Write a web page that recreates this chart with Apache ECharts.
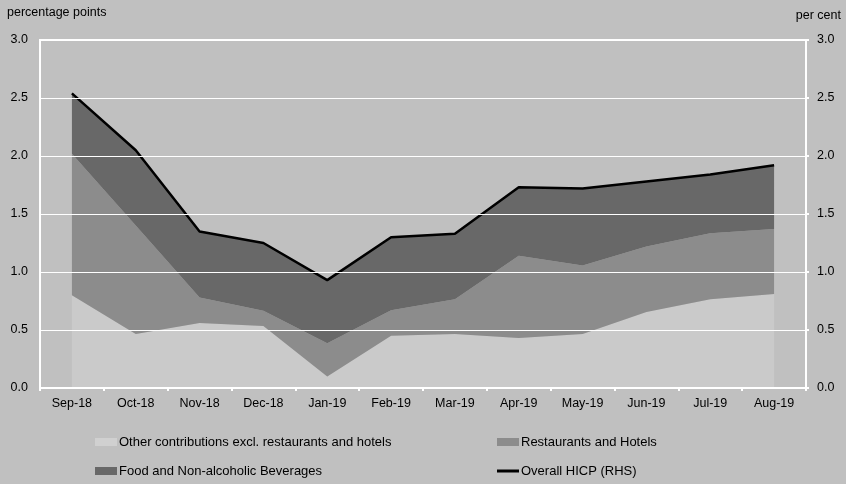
<!DOCTYPE html>
<html>
<head>
<meta charset="utf-8">
<script src="https://cdn.jsdelivr.net/npm/echarts@6/dist/echarts.min.js"></script>
<style>
  html, body { margin: 0; padding: 0; background: #c0c0c0; }
  #chart { width: 846px; height: 484px; }
</style>
</head>
<body>
<div id="chart"></div>
<script>
const months = ['Sep-18', 'Oct-18', 'Nov-18', 'Dec-18', 'Jan-19', 'Feb-19', 'Mar-19', 'Apr-19', 'May-19', 'Jun-19', 'Jul-19', 'Aug-19'];

// contributions, percentage points
const otherContrib = [0.80, 0.465, 0.56, 0.535, 0.10, 0.45, 0.465, 0.43, 0.465, 0.655, 0.765, 0.81];
const restaurantsHotels = [1.22, 0.935, 0.22, 0.13, 0.285, 0.22, 0.30, 0.71, 0.59, 0.565, 0.57, 0.56];
const foodBeverages = [0.52, 0.65, 0.57, 0.585, 0.545, 0.63, 0.565, 0.59, 0.666, 0.56, 0.504, 0.55];

// per cent (RHS)
const overallHicp = [2.54, 2.05, 1.35, 1.25, 0.93, 1.30, 1.33, 1.73, 1.72, 1.78, 1.84, 1.92];

const yTicks = [0, 0.5, 1, 1.5, 2, 2.5, 3];

const font = 'Liberation Sans';
const white = '#ffffff';

const chart = echarts.init(document.getElementById('chart'));

const areaSeries = (name, data, color) => ({
    name,
    type: 'line',
    stack: 'contrib',
    data,
    symbol: 'none',
    lineStyle: { width: 0 },
    areaStyle: { color, opacity: 1 },
    itemStyle: { color },
    z: 2
});

// one legend per entry so the 2x2 layout is fixed
const legendItem = (name, left, top, height, color) => ({
    left,
    top,
    padding: 0,
    itemWidth: 22,
    itemHeight: height,
    selectedMode: false,
    textStyle: { fontSize: 13, lineHeight: 15, color: '#000', padding: [0, 0, 0, -3] },
    data: [{ name, icon: 'rect', itemStyle: color ? { color } : undefined }]
});

const option = {
    backgroundColor: '#c0c0c0',
    animation: false,
    textStyle: { fontFamily: font },
    grid: {
        left: 40,
        right: 40,
        top: 40,
        bottom: 96,
        show: true,
        backgroundColor: 'transparent',
        borderColor: white,
        borderWidth: 2
    },
    graphic: [
        {
            type: 'text',
            left: 7,
            top: 6,
            style: { text: 'percentage points', font: '12.5px ' + font, fill: '#000' }
        },
        {
            type: 'text',
            right: 5,
            top: 9,
            style: { text: 'per cent', font: '12.5px ' + font, fill: '#000' }
        }
    ],
    legend: [
        legendItem('Other contributions excl. restaurants and hotels', 95, 434.5, 8, '#d0d0d0'),
        legendItem('Food and Non-alcoholic Beverages', 95, 463.5, 8),
        legendItem('Restaurants and Hotels', 497, 434.5, 8),
        legendItem('Overall HICP (RHS)', 497, 463.5, 3, '#000')
    ],
    xAxis: {
        type: 'category',
        data: months,
        boundaryGap: true,
        z: 5,
        axisLine: { lineStyle: { color: white, width: 2 } },
        axisTick: { show: true, length: 3, lineStyle: { color: white, width: 2 } },
        axisLabel: { color: '#000', fontSize: 12.5, margin: 9 }
    },
    yAxis: [
        {
            type: 'value',
            min: yTicks[0],
            max: yTicks[yTicks.length - 1],
            interval: 0.5,
            z: 5,
            axisLine: { show: true, lineStyle: { color: white, width: 2 } },
            axisTick: { show: false },
            splitLine: { show: true, lineStyle: { color: white, width: 1 } },
            axisLabel: { color: '#000', fontSize: 12.5, margin: 12, formatter: v => v.toFixed(1) }
        },
        {
            type: 'value',
            min: yTicks[0],
            max: yTicks[yTicks.length - 1],
            interval: 0.5,
            position: 'right',
            z: 5,
            axisLine: { show: true, lineStyle: { color: white, width: 2 } },
            axisTick: { show: true, length: 3, lineStyle: { color: white, width: 2 } },
            splitLine: { show: false },
            axisLabel: { color: '#000', fontSize: 12.5, margin: 11, formatter: v => v.toFixed(1) }
        }
    ],
    series: [
        areaSeries('Other contributions excl. restaurants and hotels', otherContrib, '#cacaca'),
        areaSeries('Restaurants and Hotels', restaurantsHotels, '#8c8c8c'),
        areaSeries('Food and Non-alcoholic Beverages', foodBeverages, '#686868'),
        {
            name: 'Overall HICP (RHS)',
            type: 'line',
            yAxisIndex: 1,
            data: overallHicp,
            symbol: 'none',
            lineStyle: { color: '#000', width: 2.5 },
            itemStyle: { color: '#000' },
            z: 4
        }
    ]
};

chart.setOption(option);
</script>
</body>
</html>
